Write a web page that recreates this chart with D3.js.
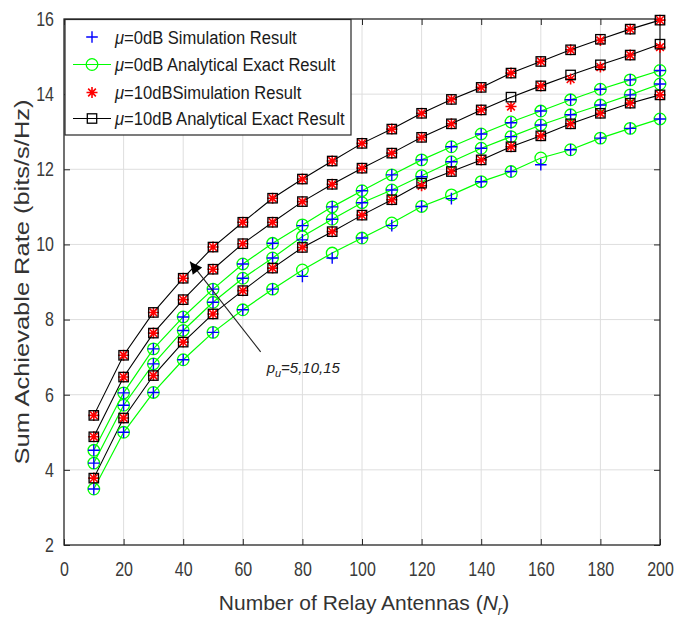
<!DOCTYPE html>
<html><head><meta charset="utf-8">
<script src="https://cdn.jsdelivr.net/npm/d3@7"></script>
<style>html,body{margin:0;padding:0;background:#fff;}svg{display:block;}</style>
</head><body>
<svg id="c" width="692" height="625"></svg>
<script>
const antennas = [10,20,30,40,50,60,70,80,90,100,110,120,130,140,150,160,170,180,190,200];
// mu = 0 dB, analytical (p_u = 15, 10, 5)
const ana0_p15 = [4.52,6.05,7.22,8.07,8.81,9.48,10.03,10.52,11.00,11.43,11.85,12.25,12.60,12.94,13.26,13.55,13.85,14.13,14.38,14.63];
const ana0_p10 = [4.18,5.72,6.82,7.71,8.46,9.10,9.64,10.21,10.67,11.11,11.45,11.83,12.20,12.56,12.87,13.18,13.45,13.71,13.98,14.27];
const ana0_p5  = [3.49,5.00,6.06,6.93,7.66,8.26,8.81,9.32,9.77,10.17,10.57,11.01,11.32,11.67,11.94,12.30,12.52,12.83,13.09,13.34];
// mu = 0 dB, simulation
const sim0_p15 = [4.52,6.05,7.22,8.07,8.81,9.48,10.03,10.50,11.00,11.43,11.85,12.25,12.60,12.94,13.24,13.55,13.85,14.13,14.38,14.63];
const sim0_p10 = [4.18,5.72,6.82,7.71,8.46,9.10,9.64,10.12,10.67,11.11,11.45,11.80,12.20,12.56,12.87,13.18,13.45,13.71,13.98,14.27];
const sim0_p5  = [3.49,5.00,6.06,6.93,7.66,8.26,8.81,9.15,9.64,10.17,10.50,11.01,11.22,11.67,11.94,12.12,12.52,12.83,13.09,13.34];
// mu = 10 dB, analytical
const ana10_p15 = [5.45,7.05,8.19,9.10,9.93,10.59,11.23,11.74,12.22,12.69,13.07,13.49,13.86,14.18,14.56,14.87,15.18,15.46,15.73,15.97];
const ana10_p10 = [4.88,6.47,7.64,8.53,9.34,10.02,10.59,11.14,11.60,12.03,12.43,12.85,13.21,13.58,13.92,14.22,14.51,14.78,15.04,15.33];
const ana10_p5  = [3.78,5.38,6.51,7.40,8.15,8.77,9.37,9.92,10.34,10.78,11.19,11.63,11.94,12.25,12.60,12.89,13.21,13.49,13.76,13.98];
// mu = 10 dB, simulation
const sim10_p15 = [5.45,7.05,8.19,9.10,9.93,10.59,11.23,11.74,12.22,12.69,13.07,13.49,13.86,14.18,14.56,14.87,15.18,15.43,15.73,15.97];
const sim10_p10 = [4.88,6.47,7.64,8.53,9.34,10.02,10.59,11.14,11.60,12.03,12.43,12.85,13.21,13.58,13.67,14.22,14.40,14.72,15.04,15.25];
const sim10_p5  = [3.78,5.38,6.51,7.40,8.15,8.77,9.37,9.92,10.34,10.78,11.19,11.56,11.94,12.25,12.60,12.89,13.21,13.49,13.76,13.98];

const xTicks = [0,20,40,60,80,100,120,140,160,180,200];
const yTicks = [2,4,6,8,10,12,14,16];
const legendLabels = ["=0dB Simulation Result","=0dB Analytical Exact Result","=10dBSimulation Result","=10dB Analytical Exact Result"];
const xLabel = "Number of Relay Antennas (";
const yLabel = "Sum Achievable Rate (bits/s/Hz)";
const annot = "=5,10,15";

const svg = d3.select("#c");
const L = 64, R = 660, T = 19, B = 545;
const x = d3.scaleLinear().domain([0,200]).range([L,R]);
const y = d3.scaleLinear().domain([2,16]).range([B,T]);
const font = "'Liberation Sans', Arial, sans-serif";
const tickCol = "#3a3a3a";

function squeeze(sel, f){
  sel.each(function(){
    const w = this.getComputedTextLength();
    d3.select(this).attr("textLength", w*f).attr("lengthAdjust","spacingAndGlyphs");
  });
}

// grid
const g = svg.append("g");
g.selectAll(".gx").data(xTicks.slice(1,-1)).enter().append("line")
  .attr("x1",d=>x(d)).attr("x2",d=>x(d)).attr("y1",T).attr("y2",B)
  .attr("stroke","#dedede").attr("stroke-width",1);
g.selectAll(".gy").data(yTicks.slice(1,-1)).enter().append("line")
  .attr("y1",d=>y(d)).attr("y2",d=>y(d)).attr("x1",L).attr("x2",R)
  .attr("stroke","#dedede").attr("stroke-width",1);

// axes with inward ticks
const xAxisB = d3.axisBottom(x).tickValues(xTicks).tickSizeInner(-6).tickSizeOuter(0).tickPadding(17);
const yAxisL = d3.axisLeft(y).tickValues(yTicks).tickSizeInner(-6).tickSizeOuter(0).tickPadding(10);
const xAxisT = d3.axisTop(x).tickValues(xTicks).tickSizeInner(-6).tickSizeOuter(0).tickFormat("");
const yAxisR = d3.axisRight(y).tickValues(yTicks).tickSizeInner(-6).tickSizeOuter(0).tickFormat("");
function styleAx(sel){
  sel.selectAll("path").remove();
  sel.selectAll("line").attr("stroke","#262626");
  sel.selectAll("text").attr("fill",tickCol).style("font-family",font).style("font-size","20px");
  squeeze(sel.selectAll("text"), 0.8);
}
svg.append("g").attr("transform",`translate(0,${B})`).call(xAxisB).call(styleAx);
svg.append("g").attr("transform",`translate(${L},0)`).call(yAxisL).call(styleAx);
svg.append("g").attr("transform",`translate(0,${T})`).call(xAxisT).call(styleAx);
svg.append("g").attr("transform",`translate(${R},0)`).call(yAxisR).call(styleAx);
svg.append("rect").attr("x",L).attr("y",T).attr("width",R-L).attr("height",B-T)
  .attr("fill","none").attr("stroke","#262626").attr("stroke-width",1.3);

// series
const green = "#00ff00", blue = "#0000ff", red = "#ff0000", black = "#000";
const line = d3.line().x((d,i)=>x(antennas[i])).y(d=>y(d));
const anaGreen = [ana0_p15, ana0_p10, ana0_p5];
const anaBlack = [ana10_p15, ana10_p10, ana10_p5];
const simBlue = [sim0_p15, sim0_p10, sim0_p5];
const simRed = [sim10_p15, sim10_p10, sim10_p5];
const plot = svg.append("g");
anaGreen.forEach(s=>plot.append("path").attr("d",line(s)).attr("fill","none").attr("stroke",green).attr("stroke-width",1.2));
anaBlack.forEach(s=>plot.append("path").attr("d",line(s)).attr("fill","none").attr("stroke",black).attr("stroke-width",1.1));

function circle(sel,cx,cy){ sel.append("circle").attr("cx",cx).attr("cy",cy).attr("r",5.8).attr("fill","none").attr("stroke",green).attr("stroke-width",1.3); }
function plus(sel,cx,cy){ const s=5.8; sel.append("path").attr("d",`M${cx-s},${cy}H${cx+s}M${cx},${cy-s}V${cy+s}`).attr("stroke",blue).attr("stroke-width",1.4).attr("fill","none"); }
function star(sel,cx,cy){ const s=5.5, d=s*0.7; sel.append("path").attr("d",`M${cx-s},${cy}H${cx+s}M${cx},${cy-s}V${cy+s}M${cx-d},${cy-d}L${cx+d},${cy+d}M${cx-d},${cy+d}L${cx+d},${cy-d}`).attr("stroke",red).attr("stroke-width",1.6).attr("fill","none"); }
function square(sel,cx,cy){ const s=4.7; sel.append("rect").attr("x",cx-s).attr("y",cy-s).attr("width",2*s).attr("height",2*s).attr("fill","none").attr("stroke",black).attr("stroke-width",1.3); }

anaGreen.forEach(s=>s.forEach((v,i)=>circle(plot,x(antennas[i]),y(v))));
simBlue.forEach(s=>s.forEach((v,i)=>plus(plot,x(antennas[i]),y(v))));
simRed.forEach(s=>s.forEach((v,i)=>star(plot,x(antennas[i]),y(v))));
anaBlack.forEach(s=>s.forEach((v,i)=>square(plot,x(antennas[i]),y(v))));

// annotation
const defs = svg.append("defs");
defs.append("marker").attr("id","ah").attr("viewBox","0 0 10 10").attr("refX",10).attr("refY",5)
  .attr("markerWidth",16).attr("markerHeight",12).attr("markerUnits","userSpaceOnUse").attr("orient","auto")
  .append("path").attr("d","M0,0L10,5L0,10Z").attr("fill","#000");
svg.append("line").attr("x1",x(66)).attr("y1",y(7.14)).attr("x2",x(42.3)).attr("y2",y(9.54))
  .attr("stroke","#222").attr("stroke-width",1.1).attr("marker-end","url(#ah)");
const at = svg.append("text").attr("x",x(68)).attr("y",y(6.58)).style("font-family",font).style("font-size","15px").style("font-style","italic").attr("fill","#222");
at.append("tspan").text("p");
at.append("tspan").attr("dy",4).style("font-size","11px").text("u");
at.append("tspan").attr("dy",-4).text(annot);

// legend
const lg = svg.append("g");
lg.append("rect").attr("x",65).attr("y",19.5).attr("width",286).attr("height",115.5).attr("fill","#fff").attr("stroke","#262626").attr("stroke-width",1.2);
const ly = [37,64.5,92.5,118.5];
plus(lg,92,ly[0]);
lg.append("line").attr("x1",73).attr("x2",111).attr("y1",ly[1]).attr("y2",ly[1]).attr("stroke",green).attr("stroke-width",1.2);
circle(lg,92,ly[1]);
star(lg,92,ly[2]);
lg.append("line").attr("x1",73).attr("x2",111).attr("y1",ly[3]).attr("y2",ly[3]).attr("stroke",black).attr("stroke-width",1.1);
square(lg,92,ly[3]);
legendLabels.forEach((t,i)=>{
  const tx = lg.append("text").attr("x",115).attr("y",ly[i]+6.5).style("font-family",font).style("font-size","18px").attr("fill","#1a1a1a");
  tx.append("tspan").style("font-style","italic").text("\u03bc");
  tx.append("tspan").text(t);
  squeeze(tx, 0.92);
});

// axis labels
const xl = svg.append("text").attr("x",364).attr("y",610).attr("text-anchor","middle").style("font-family",font).style("font-size","21px").attr("fill","#333");
xl.append("tspan").text(xLabel);
xl.append("tspan").style("font-style","italic").text("N");
xl.append("tspan").attr("dy",5).style("font-size","13px").style("font-style","italic").text("r");
xl.append("tspan").attr("dy",-5).text(")");
svg.append("text").attr("transform","translate(29,282) rotate(-90)").attr("text-anchor","middle")
  .style("font-family",font).style("font-size","21px").attr("fill","#333")
  .attr("textLength",365).attr("lengthAdjust","spacingAndGlyphs").text(yLabel);
</script>
</body></html>
